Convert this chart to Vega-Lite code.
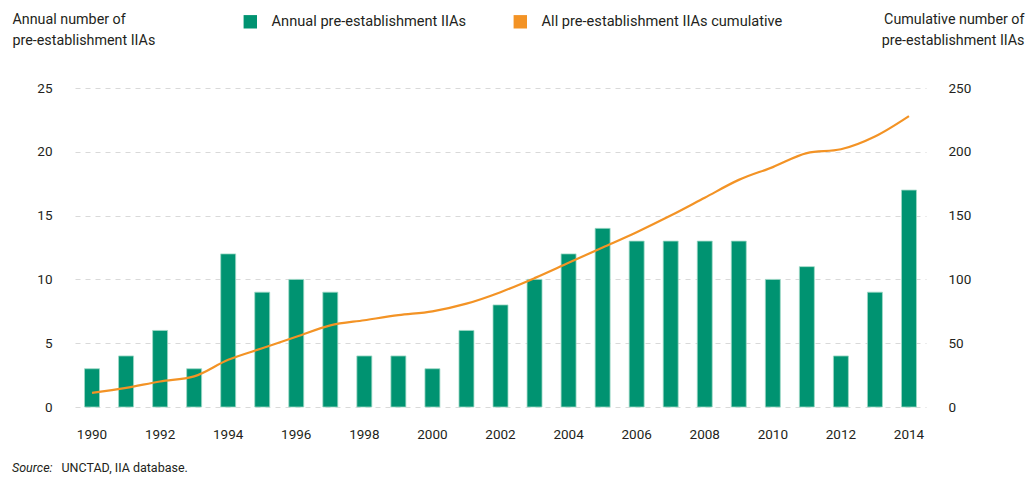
{
  "$schema": "https://vega.github.io/schema/vega-lite/v6.json",
  "autosize": {"type": "none"},
  "width": 851,
  "height": 319,
  "padding": {"left": 75, "top": 88, "right": 101, "bottom": 70},
  "background": "white",
  "title": {
    "text": "Source:",
    "orient": "bottom",
    "anchor": "start",
    "frame": "bounds",
    "font": "Roboto",
    "fontSize": 12.5,
    "fontStyle": "italic",
    "fontWeight": "normal",
    "color": "#231f20",
    "offset": 0,
    "dy": -12
  },
  "config": {
    "font": "Roboto",
    "view": {"stroke": null},
    "axis": {
      "labelFont": "Roboto",
      "titleFont": "Roboto",
      "labelColor": "#231f20",
      "titleColor": "#231f20",
      "labelFontSize": 13.5,
      "titleFontSize": 14.3,
      "titleFontWeight": "normal",
      "domain": false,
      "ticks": false
    },
    "legend": {
      "labelFont": "Roboto",
      "labelFontSize": 14.6,
      "labelColor": "#231f20",
      "labelLimit": 0
    }
  },
  "data": {
    "values": [
      {"year": 1990, "annual": 3, "cumulative": 11},
      {"year": 1991, "annual": 4, "cumulative": 15},
      {"year": 1992, "annual": 6, "cumulative": 20},
      {"year": 1993, "annual": 3, "cumulative": 24},
      {"year": 1994, "annual": 12, "cumulative": 37},
      {"year": 1995, "annual": 9, "cumulative": 46},
      {"year": 1996, "annual": 10, "cumulative": 55},
      {"year": 1997, "annual": 9, "cumulative": 64},
      {"year": 1998, "annual": 4, "cumulative": 68},
      {"year": 1999, "annual": 4, "cumulative": 72},
      {"year": 2000, "annual": 3, "cumulative": 75},
      {"year": 2001, "annual": 6, "cumulative": 81},
      {"year": 2002, "annual": 8, "cumulative": 90},
      {"year": 2003, "annual": 10, "cumulative": 101},
      {"year": 2004, "annual": 12, "cumulative": 113},
      {"year": 2005, "annual": 14, "cumulative": 125},
      {"year": 2006, "annual": 13, "cumulative": 137},
      {"year": 2007, "annual": 13, "cumulative": 150},
      {"year": 2008, "annual": 13, "cumulative": 164},
      {"year": 2009, "annual": 13, "cumulative": 178},
      {"year": 2010, "annual": 10, "cumulative": 188},
      {"year": 2011, "annual": 11, "cumulative": 199},
      {"year": 2012, "annual": 4, "cumulative": 202},
      {"year": 2013, "annual": 9, "cumulative": 212},
      {"year": 2014, "annual": 17, "cumulative": 228}
    ]
  },
  "encoding": {
    "x": {
      "field": "year",
      "type": "ordinal",
      "scale": {"paddingInner": 0.56, "paddingOuter": 0.28},
      "axis": {
        "title": "UNCTAD, IIA database.",
        "titleAnchor": "start",
        "titleAlign": "left",
        "titleBaseline": "middle",
        "titleX": -14,
        "titleY": 60,
        "titleFontSize": 12.5,
        "values": [1990, 1992, 1994, 1996, 1998, 2000, 2002, 2004, 2006, 2008, 2010, 2012, 2014],
        "labelAngle": 0,
        "labelPadding": 20,
        "grid": false
      }
    }
  },
  "layer": [
    {
      "mark": {"type": "bar", "stroke": "#9fd9c6", "strokeWidth": 0.8},
      "encoding": {
        "y": {
          "field": "annual",
          "type": "quantitative",
          "scale": {"domain": [0, 25]},
          "axis": {
            "title": ["Annual number of", "pre-establishment IIAs"],
            "titleAngle": 0,
            "titleAlign": "left",
            "titleAnchor": "start",
            "titleBaseline": "top",
            "titleX": -63,
            "titleY": -76,
            "titleLineHeight": 21,
            "values": [0, 5, 10, 15, 20, 25],
            "labelPadding": 23,
            "grid": true,
            "gridColor": "#d9d9d9",
            "gridDash": [5, 5],
            "gridWidth": 1
          }
        },
        "color": {
          "datum": "Annual pre-establishment IIAs",
          "type": "nominal",
          "scale": {
            "domain": ["Annual pre-establishment IIAs", "All pre-establishment IIAs cumulative"],
            "range": ["#009371", "#f39325"]
          },
          "legend": {
            "title": null,
            "orient": "none",
            "direction": "horizontal",
            "legendX": 168,
            "legendY": -74,
            "symbolType": "square",
            "symbolSize": 180,
            "symbolStrokeWidth": 0,
            "labelOffset": 14,
            "columnPadding": 46
          }
        }
      }
    },
    {
      "mark": {"type": "line", "interpolate": "monotone", "strokeWidth": 2.2},
      "encoding": {
        "y": {
          "field": "cumulative",
          "type": "quantitative",
          "scale": {"domain": [0, 250]},
          "axis": {
            "orient": "right",
            "title": ["Cumulative number of", "pre-establishment IIAs"],
            "titleAngle": 0,
            "titleAlign": "right",
            "titleAnchor": "start",
            "titleBaseline": "top",
            "titleX": 98,
            "titleY": -76,
            "titleLineHeight": 21,
            "values": [0, 50, 100, 150, 200, 250],
            "labelPadding": 22,
            "grid": false
          }
        },
        "color": {"datum": "All pre-establishment IIAs cumulative", "type": "nominal"}
      }
    }
  ],
  "resolve": {"scale": {"y": "independent"}}
}
